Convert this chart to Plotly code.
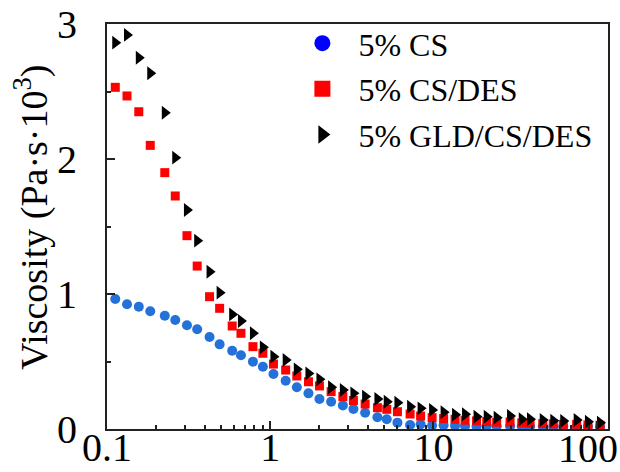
import plotly.graph_objects as go

# Shear rate (1/s) shared by all three series
shear_rate = [0.1124, 0.1326, 0.1566, 0.1841, 0.226, 0.262, 0.309, 0.357, 0.425, 0.490,
              0.585, 0.662, 0.784, 0.902, 1.047, 1.244, 1.456, 1.716, 2.004, 2.363,
              2.788, 3.236, 3.818, 4.54, 5.18, 6.02, 7.20, 8.35, 9.82, 11.55,
              13.58, 15.63, 18.39, 21.23, 24.43, 29.5, 34.8, 39.1, 46.8, 54.3,
              62.5, 75.5, 88.5, 105.0]

cs = [0.963, 0.924, 0.906, 0.872, 0.839, 0.807, 0.768, 0.739, 0.681, 0.627,
      0.580, 0.546, 0.499, 0.461, 0.407, 0.358, 0.309, 0.264, 0.222, 0.202,
      0.175, 0.148, 0.121, 0.087, 0.072, 0.047, 0.030, 0.035, 0.026, 0.028,
      0.024, 0.022, 0.020, 0.022, 0.020, 0.021, 0.020, 0.019, 0.020, 0.018,
      0.019, 0.018, 0.019, 0.017]

cs_des = [2.531, 2.467, 2.350, 2.101, 1.899, 1.726, 1.432, 1.207, 0.980, 0.894,
          0.763, 0.709, 0.610, 0.561, 0.481, 0.437, 0.393, 0.350, 0.319, 0.277,
          0.240, 0.211, 0.185, 0.158, 0.146, 0.128, 0.111, 0.096, 0.084, 0.077,
          0.072, 0.065, 0.060, 0.055, 0.050, 0.052, 0.045, 0.042, 0.040, 0.038,
          0.035, 0.035, 0.030, 0.028]

gld_cs_des = [2.862, 2.919, 2.750, 2.635, 2.343, 2.010, 1.622, 1.395, 1.165, 1.010,
              0.849, 0.800, 0.709, 0.605, 0.536, 0.511, 0.442, 0.412, 0.368, 0.309,
              0.289, 0.264, 0.240, 0.222, 0.202, 0.195, 0.165, 0.153, 0.141, 0.125,
              0.106, 0.109, 0.091, 0.091, 0.084, 0.096, 0.072, 0.072, 0.067, 0.062,
              0.059, 0.067, 0.054, 0.047]

series_names = ["5% CS", "5% CS/DES", "5% GLD/CS/DES"]
y_title = "Viscosity (Pa·s·10<sup>3</sup>)"

x_tickvals = [0.1, 1, 10, 100]
x_ticktext = ["0.1", "1", "10", "100"]
x_minor = [0.2, 0.3, 0.4, 0.5, 0.6, 0.7, 0.8, 0.9,
           2, 3, 4, 5, 6, 7, 8, 9,
           20, 30, 40, 50, 60, 70, 80, 90]
y_tickvals = [0, 1, 2, 3]
y_minor = [0.5, 1.5, 2.5]

FONT = "Liberation Serif"
NB = "\u00a0\u00a0"

fig = go.Figure()

# data traces
fig.add_trace(go.Scatter(x=shear_rate, y=cs, mode="markers", showlegend=False,
                         marker=dict(symbol="circle", size=10, color="#2471DA")))
fig.add_trace(go.Scatter(x=shear_rate, y=cs_des, mode="markers", showlegend=False,
                         marker=dict(symbol="square", size=9, color="#FF0000")))
fig.add_trace(go.Scatter(x=shear_rate, y=gld_cs_des, mode="markers", showlegend=False,
                         marker=dict(symbol="triangle-right", size=12, color="#000000")))

# legend entries
leg_styles = [("circle", "#0000FF"), ("square", "#FF0000"), ("triangle-right", "#000000")]
for i, (name, (sym, col)) in enumerate(zip(series_names, leg_styles)):
    fig.add_trace(go.Scatter(x=[None], y=[None], mode="markers", name=NB + name,
                             legendgroup=f"g{i}",
                             marker=dict(symbol=sym, size=16, color=col)))

axis_common = dict(showline=True, linecolor="#222222", linewidth=2, mirror=True,
                   showgrid=False, zeroline=False, ticks="inside", tickcolor="#222222",
                   tickwidth=1.5, ticklen=8, automargin=False,
                   tickfont=dict(family=FONT, size=40, color="black"))

# the last x label sits against the page edge, so it is drawn as an annotation
shown_text = x_ticktext[:-1] + [""]
fig.update_xaxes(type="log", range=[-1, 2.07], tickvals=x_tickvals, ticktext=shown_text,
                 minor=dict(tickvals=x_minor, ticks="inside", ticklen=4,
                            tickcolor="#222222", tickwidth=1.5),
                 ticklabelstandoff=-18, ticklabeloverflow="allow",
                 **axis_common)
fig.update_yaxes(range=[0, 3], tickvals=y_tickvals,
                 minor=dict(tickvals=y_minor, ticks="inside", ticklen=4,
                            tickcolor="#222222", tickwidth=1.5),
                 ticklabelstandoff=20,
                 **axis_common)

fig.add_annotation(text=x_ticktext[-1], xref="x", yref="paper",
                   x=2, y=-0.047, xanchor="center", yanchor="middle", xshift=-9,
                   showarrow=False, font=dict(family=FONT, size=40, color="black"))

fig.add_annotation(text=y_title, xref="paper", yref="paper",
                   x=-0.152, y=0.523, xanchor="center", yanchor="middle",
                   textangle=-90, showarrow=False,
                   font=dict(family=FONT, size=38, color="black"))

fig.update_layout(
    width=620, height=472,
    margin=dict(l=107, r=12, t=24, b=43, autoexpand=False),
    paper_bgcolor="white", plot_bgcolor="white",
    legend=dict(x=0.39, y=1.02, xanchor="left", yanchor="top",
                bgcolor="rgba(0,0,0,0)", tracegroupgap=1,
                font=dict(family=FONT, size=32, color="black")),
)

fig.write_html("out.html")
